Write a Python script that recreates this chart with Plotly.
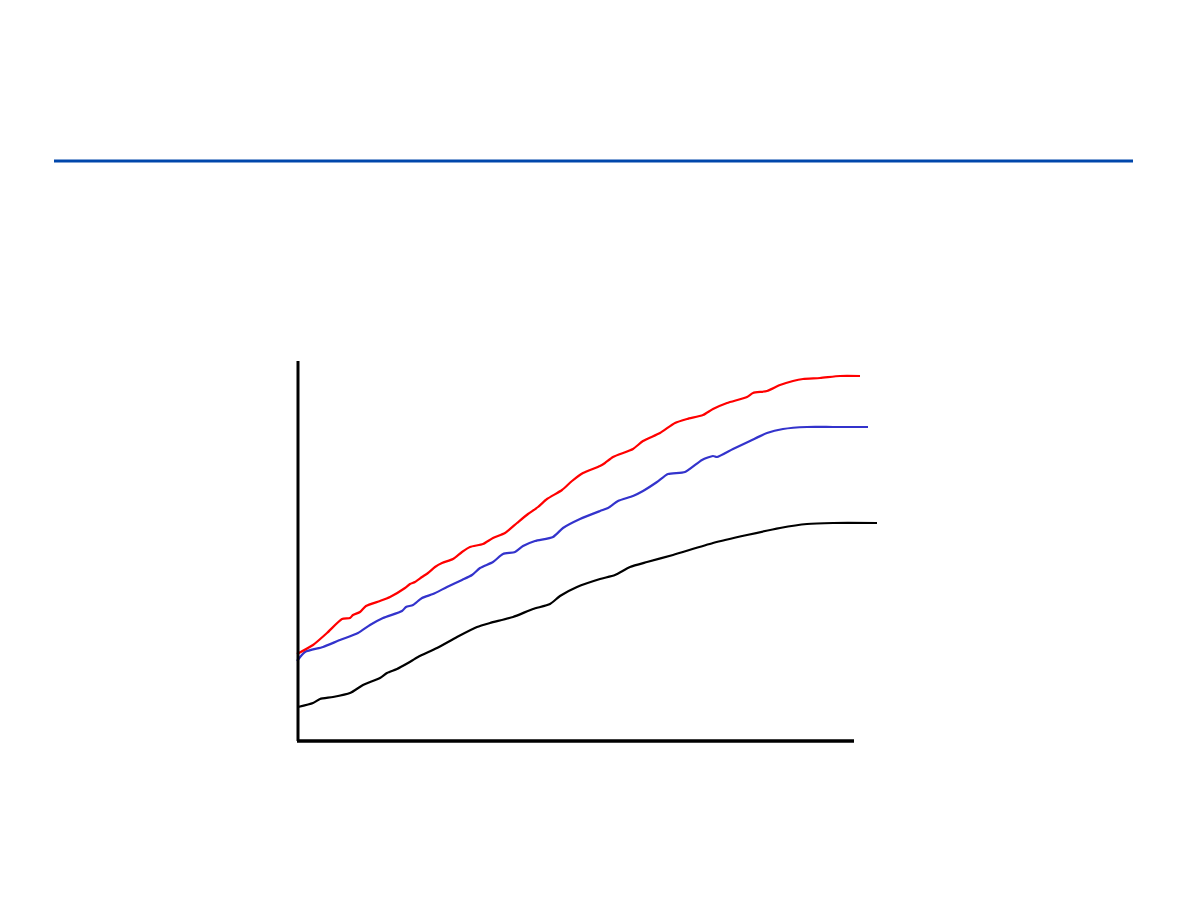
import plotly.graph_objects as go

# Data values (x = units from axis origin, y = height above x axis)
red_x = [297, 313, 327, 342, 350, 353, 360, 366, 380, 390, 405, 410, 415, 422, 428, 435, 442, 453, 462, 470, 483, 493, 505, 517, 528, 538, 547, 562, 572, 583, 600,
         605, 613, 633, 643, 660, 675, 687, 703, 713, 727, 747, 753, 767, 780, 793, 803, 820, 840, 860]
red_py = [654, 645, 633, 619, 618, 615, 612, 606, 601, 597, 588, 584, 582, 577, 573, 567, 563, 559, 552, 547, 544, 538, 533, 523, 514, 507, 499, 490, 481, 473, 466,
          463, 457, 449, 441, 433, 423, 419, 415, 409, 403, 397, 393, 391, 385, 381, 379, 378, 376, 376]

blue_x = [297, 305, 323, 340, 358, 370, 383, 402, 406, 413, 422, 433, 447, 462, 472, 480, 493, 503, 515, 523, 535, 553, 563, 580, 600,
          608, 618, 633, 643, 657, 668, 685, 702, 713, 717, 733, 750, 767, 783, 807, 833, 868]
blue_py = [661, 652, 647, 640, 633, 625, 618, 611, 607, 605, 598, 594, 587, 580, 575, 568, 562, 554, 552, 546, 541, 537, 528, 519, 511,
           508, 501, 496, 491, 482, 474, 472, 460, 456, 457, 449, 441, 433, 429, 427, 427, 427]

black_x = [298, 313, 320, 333, 350, 363, 380, 387, 397, 408, 418, 437, 457, 477, 490, 513, 533, 550, 560, 577, 600,
           615, 630, 647, 673, 713, 747, 780, 807, 833, 877]
black_py = [707, 703, 699, 697, 693, 685, 678, 673, 669, 663, 657, 648, 637, 627, 623, 617, 609, 604, 596, 587, 579,
            575, 567, 562, 555, 543, 535, 528, 524, 523, 523]

PAD = 8  # default page body margin
X0, Y0 = 298, 741
W, H = 1172, 900


def xs(a):
    return [v - X0 for v in a]


def ys(a):
    return [Y0 - v for v in a]


fig = go.Figure()
fig.add_trace(go.Scatter(x=xs(black_x), y=ys(black_py), mode="lines",
                         line=dict(color="#000000", width=2.2, shape="spline", smoothing=0.6)))
fig.add_trace(go.Scatter(x=xs(blue_x), y=ys(blue_py), mode="lines",
                         line=dict(color="#3333CC", width=2.2, shape="spline", smoothing=0.6)))
fig.add_trace(go.Scatter(x=xs(red_x), y=ys(red_py), mode="lines",
                         line=dict(color="#FF0000", width=2.2, shape="spline", smoothing=0.6)))

# axis lines
fig.add_shape(type="line", xref="x", yref="y", x0=-1, x1=556, y0=0, y1=0,
              line=dict(color="black", width=3.5))
fig.add_shape(type="line", xref="x", yref="y", x0=0, x1=0, y0=0, y1=380,
              line=dict(color="black", width=3))
# top rule
fig.add_shape(type="line", xref="paper", yref="paper", x0=(54 - PAD) / W, x1=(1133 - PAD) / W,
              y0=1 - (161 - PAD) / H, y1=1 - (161 - PAD) / H, line=dict(color="#0047AB", width=3))

fig.update_layout(
    width=W, height=H, autosize=False,
    margin=dict(l=0, r=0, t=0, b=0),
    paper_bgcolor="white", plot_bgcolor="white",
    showlegend=False,
    xaxis=dict(range=[-(X0 - PAD), W - (X0 - PAD)], visible=False, fixedrange=True),
    yaxis=dict(range=[-(H - (Y0 - PAD)), Y0 - PAD], visible=False, fixedrange=True),
)

fig.write_html("out.html", config={"displayModeBar": False})
